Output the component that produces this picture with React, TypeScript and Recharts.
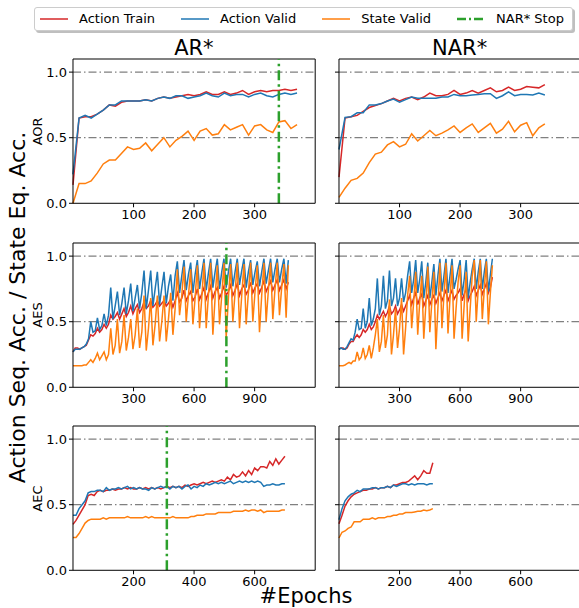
import { LineChart, Line, XAxis, YAxis, ReferenceLine } from "recharts";

// matplotlib-like palette
const C_TRAIN = "#d62728";
const C_VALID = "#1f77b4";
const C_STATE = "#ff7f0e";
const C_STOP = "#2ca02c";
const FONT = "'DejaVu Sans', sans-serif";

const Y_TICKS = [0, 0.5, 1.0];

// ---- AOR (logged every 10 epochs) ----
const AOR_STEP = 10;
const AR_AOR_TRAIN = [0.14, 0.65, 0.66, 0.66, 0.68, 0.71, 0.75, 0.74, 0.77, 0.78, 0.78, 0.78, 0.79, 0.78, 0.80, 0.81, 0.80, 0.81, 0.82, 0.83, 0.82, 0.83, 0.85, 0.83, 0.83, 0.85, 0.83, 0.84, 0.86, 0.83, 0.85, 0.86, 0.85, 0.86, 0.86, 0.87, 0.86, 0.87];
const AR_AOR_VALID = [0.22, 0.65, 0.67, 0.65, 0.68, 0.71, 0.75, 0.75, 0.78, 0.78, 0.78, 0.78, 0.79, 0.78, 0.80, 0.81, 0.80, 0.82, 0.82, 0.80, 0.81, 0.82, 0.84, 0.82, 0.81, 0.84, 0.82, 0.83, 0.83, 0.81, 0.83, 0.84, 0.82, 0.81, 0.83, 0.84, 0.83, 0.84];
const AR_AOR_STATE = [0.0, 0.15, 0.15, 0.17, 0.23, 0.30, 0.33, 0.33, 0.38, 0.43, 0.41, 0.42, 0.46, 0.40, 0.45, 0.50, 0.43, 0.48, 0.51, 0.55, 0.48, 0.55, 0.57, 0.52, 0.53, 0.60, 0.56, 0.58, 0.60, 0.52, 0.59, 0.60, 0.56, 0.54, 0.62, 0.63, 0.57, 0.60];
const NAR_AOR_TRAIN = [0.20, 0.65, 0.66, 0.67, 0.70, 0.73, 0.745, 0.76, 0.78, 0.80, 0.78, 0.80, 0.81, 0.79, 0.81, 0.84, 0.82, 0.82, 0.83, 0.86, 0.83, 0.84, 0.86, 0.84, 0.86, 0.88, 0.85, 0.86, 0.885, 0.86, 0.87, 0.89, 0.885, 0.88, 0.905];
const NAR_AOR_VALID = [0.41, 0.655, 0.66, 0.69, 0.69, 0.75, 0.75, 0.76, 0.78, 0.795, 0.77, 0.79, 0.81, 0.80, 0.80, 0.80, 0.80, 0.81, 0.81, 0.83, 0.82, 0.82, 0.825, 0.83, 0.835, 0.835, 0.80, 0.82, 0.85, 0.82, 0.83, 0.83, 0.825, 0.84, 0.825];
const NAR_AOR_STATE = [0.045, 0.115, 0.175, 0.19, 0.23, 0.31, 0.375, 0.39, 0.445, 0.47, 0.43, 0.45, 0.53, 0.475, 0.515, 0.555, 0.515, 0.535, 0.56, 0.59, 0.54, 0.575, 0.605, 0.54, 0.575, 0.61, 0.535, 0.565, 0.625, 0.545, 0.595, 0.615, 0.515, 0.575, 0.605];

// ---- AES (AR* logged every 11 epochs, NAR* every 10) ----
const AR_AES_STEP = 11;
const AR_AES_TRAIN = [
  0.27, 0.30, 0.30, 0.29, 0.30, 0.31, 0.32, 0.36,
  0.40, 0.39, 0.41, 0.45, 0.42, 0.44, 0.48, 0.45, 0.48, 0.55, 0.52, 0.54,
  0.57, 0.52, 0.56, 0.60, 0.54, 0.57, 0.62, 0.56, 0.60, 0.63, 0.57, 0.60,
  0.65, 0.60, 0.62, 0.66, 0.61, 0.63, 0.66, 0.62, 0.64, 0.66, 0.62, 0.64,
  0.67, 0.61, 0.66, 0.72, 0.65, 0.68, 0.74, 0.66, 0.70, 0.73, 0.66, 0.69,
  0.75, 0.67, 0.71, 0.76, 0.67, 0.72, 0.77, 0.68, 0.73, 0.76, 0.68, 0.72,
  0.77, 0.70, 0.73, 0.78, 0.70, 0.74, 0.79, 0.70, 0.75, 0.78, 0.71, 0.74,
  0.80, 0.72, 0.76, 0.79, 0.72, 0.76, 0.81, 0.73, 0.77, 0.81, 0.74, 0.78,
  0.82, 0.74, 0.78, 0.82, 0.75, 0.80,
];
const AR_AES_VALID = [
  0.27, 0.29, 0.29, 0.29, 0.30, 0.31, 0.33, 0.37,
  0.50, 0.42, 0.43, 0.53, 0.44, 0.47, 0.56, 0.47, 0.55, 0.76, 0.52, 0.62,
  0.73, 0.55, 0.64, 0.76, 0.56, 0.66, 0.79, 0.58, 0.68, 0.78, 0.60, 0.72,
  0.89, 0.60, 0.74, 0.89, 0.62, 0.75, 0.88, 0.63, 0.76, 0.88, 0.64, 0.77,
  0.86, 0.66, 0.85, 0.96, 0.72, 0.85, 0.97, 0.74, 0.86, 0.95, 0.72, 0.86,
  0.97, 0.75, 0.87, 0.98, 0.74, 0.87, 0.98, 0.76, 0.88, 0.98, 0.75, 0.88,
  0.98, 0.76, 0.88, 0.98, 0.77, 0.88, 0.98, 0.78, 0.89, 0.98, 0.76, 0.88,
  0.97, 0.78, 0.88, 0.96, 0.77, 0.88, 0.98, 0.79, 0.89, 0.98, 0.80, 0.90,
  0.98, 0.80, 0.90, 0.98, 0.79, 0.97,
];
const AR_AES_STATE = [
  0.165, 0.165, 0.165, 0.165, 0.165, 0.17, 0.17, 0.19,
  0.21, 0.19, 0.22, 0.26, 0.21, 0.24, 0.27, 0.21, 0.25, 0.45, 0.25, 0.32,
  0.52, 0.26, 0.35, 0.55, 0.28, 0.38, 0.52, 0.29, 0.40, 0.60, 0.30, 0.42,
  0.70, 0.28, 0.45, 0.68, 0.32, 0.48, 0.70, 0.35, 0.50, 0.70, 0.35, 0.52,
  0.72, 0.40, 0.60, 0.90, 0.55, 0.70, 0.92, 0.50, 0.70, 0.90, 0.48, 0.68,
  0.93, 0.45, 0.68, 0.95, 0.45, 0.70, 0.95, 0.40, 0.68, 0.93, 0.48, 0.70,
  0.95, 0.38, 0.68, 0.94, 0.50, 0.72, 0.95, 0.45, 0.70, 0.94, 0.48, 0.72,
  0.95, 0.50, 0.73, 0.93, 0.42, 0.70, 0.95, 0.50, 0.74, 0.95, 0.52, 0.75,
  0.95, 0.55, 0.76, 0.94, 0.53, 0.93,
];
const NAR_AES_STEP = 10;
const NAR_AES_TRAIN = [
  0.29, 0.30, 0.30, 0.29, 0.30, 0.33, 0.35, 0.35, 0.38, 0.40,
  0.38, 0.40, 0.44, 0.42, 0.44, 0.48, 0.44, 0.46, 0.50, 0.55,
  0.52, 0.55, 0.58, 0.54, 0.57, 0.62, 0.56, 0.58, 0.62, 0.56,
  0.59, 0.63, 0.58, 0.62, 0.66, 0.70, 0.63, 0.68, 0.72, 0.63,
  0.68, 0.71, 0.62, 0.66, 0.70, 0.63, 0.67, 0.70, 0.64, 0.68,
  0.72, 0.66, 0.70, 0.74, 0.66, 0.70, 0.74, 0.67, 0.70, 0.72,
  0.75, 0.66, 0.71, 0.75, 0.66, 0.70, 0.73, 0.77, 0.70, 0.74,
  0.78, 0.71, 0.75, 0.79, 0.72, 0.76, 0.84,
];
const NAR_AES_VALID = [
  0.29, 0.30, 0.29, 0.29, 0.31, 0.34, 0.37, 0.36, 0.42, 0.52,
  0.44, 0.45, 0.60, 0.45, 0.50, 0.68, 0.47, 0.52, 0.60, 0.83,
  0.55, 0.62, 0.85, 0.60, 0.66, 0.89, 0.62, 0.68, 0.83, 0.62,
  0.68, 0.83, 0.65, 0.72, 0.85, 0.96, 0.72, 0.82, 0.97, 0.72,
  0.82, 0.96, 0.68, 0.80, 0.95, 0.68, 0.80, 0.94, 0.70, 0.85,
  0.98, 0.73, 0.85, 0.98, 0.72, 0.85, 0.98, 0.75, 0.82, 0.90,
  0.97, 0.70, 0.82, 0.97, 0.68, 0.80, 0.90, 0.98, 0.75, 0.88,
  0.98, 0.75, 0.88, 0.98, 0.73, 0.86, 0.98,
];
const NAR_AES_STATE = [
  0.165, 0.165, 0.165, 0.17, 0.18, 0.19, 0.18, 0.20, 0.20, 0.27,
  0.21, 0.23, 0.30, 0.22, 0.25, 0.32, 0.22, 0.30, 0.40, 0.52,
  0.27, 0.35, 0.55, 0.30, 0.40, 0.67, 0.25, 0.40, 0.60, 0.30,
  0.45, 0.68, 0.25, 0.45, 0.70, 0.85, 0.45, 0.65, 0.88, 0.40,
  0.65, 0.85, 0.37, 0.62, 0.92, 0.42, 0.65, 0.88, 0.29, 0.60,
  0.95, 0.45, 0.70, 0.95, 0.41, 0.68, 0.93, 0.37, 0.60, 0.80,
  0.93, 0.37, 0.62, 0.88, 0.35, 0.60, 0.85, 0.97, 0.50, 0.75,
  0.97, 0.52, 0.75, 0.96, 0.48, 0.72, 0.93,
];

// ---- AEC (logged every 10 epochs) ----
const AEC_STEP = 10;
const AR_AEC_TRAIN = [
  0.35, 0.38, 0.42, 0.46, 0.50, 0.57, 0.58, 0.57, 0.60, 0.61,
  0.60, 0.61, 0.61, 0.62, 0.61, 0.62, 0.62, 0.63, 0.62, 0.63,
  0.62, 0.62, 0.63, 0.62, 0.63, 0.62, 0.63, 0.62, 0.63, 0.62,
  0.63, 0.64, 0.63, 0.64, 0.63, 0.64, 0.63, 0.65, 0.64, 0.65,
  0.66, 0.65, 0.66, 0.67, 0.66, 0.67, 0.68, 0.67, 0.68, 0.69,
  0.68, 0.71, 0.69, 0.73, 0.71, 0.72, 0.75, 0.72, 0.76, 0.73,
  0.78, 0.76, 0.79, 0.79, 0.78, 0.83, 0.80, 0.85, 0.81, 0.84,
  0.87,
];
const AR_AEC_VALID = [
  0.42, 0.42, 0.47, 0.50, 0.53, 0.59, 0.60, 0.60, 0.61, 0.61,
  0.60, 0.63, 0.61, 0.62, 0.62, 0.63, 0.62, 0.63, 0.64, 0.62,
  0.63, 0.62, 0.63, 0.62, 0.62, 0.61, 0.63, 0.62, 0.63, 0.64,
  0.63, 0.64, 0.62, 0.64, 0.63, 0.64, 0.62, 0.64, 0.65, 0.62,
  0.64, 0.63, 0.65, 0.64, 0.66, 0.65, 0.66, 0.67, 0.66, 0.67,
  0.66, 0.67, 0.68, 0.66, 0.67, 0.68, 0.67, 0.68, 0.67, 0.68,
  0.67, 0.68, 0.67, 0.64, 0.65, 0.65, 0.66, 0.65, 0.65, 0.66,
  0.66,
];
const AR_AEC_STATE = [
  0.25, 0.25, 0.28, 0.32, 0.36, 0.38, 0.39, 0.39, 0.39, 0.39,
  0.40, 0.39, 0.40, 0.40, 0.40, 0.40, 0.40, 0.40, 0.41, 0.40,
  0.40, 0.40, 0.40, 0.40, 0.41, 0.40, 0.41, 0.40, 0.40, 0.40,
  0.40, 0.40, 0.40, 0.41, 0.40, 0.40, 0.40, 0.40, 0.40, 0.41,
  0.41, 0.42, 0.42, 0.42, 0.43, 0.43, 0.43, 0.43, 0.44, 0.44,
  0.44, 0.44, 0.44, 0.45, 0.45, 0.45, 0.45, 0.46, 0.45, 0.46,
  0.46, 0.45, 0.46, 0.44, 0.45, 0.45, 0.45, 0.45, 0.45, 0.46,
  0.46,
];
const NAR_AEC_TRAIN = [
  0.355, 0.42, 0.49, 0.53, 0.56, 0.58, 0.59, 0.60, 0.61, 0.61,
  0.62, 0.62, 0.63, 0.62, 0.63, 0.63, 0.64, 0.63, 0.65, 0.65,
  0.66, 0.67, 0.67, 0.68, 0.70, 0.72, 0.69, 0.72, 0.76, 0.74,
  0.74, 0.82,
];
const NAR_AEC_VALID = [
  0.385, 0.47, 0.53, 0.56, 0.58, 0.59, 0.61, 0.60, 0.62, 0.62,
  0.62, 0.63, 0.63, 0.62, 0.63, 0.63, 0.64, 0.63, 0.65, 0.64,
  0.65, 0.66, 0.66, 0.65, 0.66, 0.65, 0.66, 0.66, 0.66, 0.65,
  0.66, 0.66,
];
const NAR_AEC_STATE = [
  0.246, 0.29, 0.30, 0.32, 0.33, 0.37, 0.37, 0.37, 0.39, 0.39,
  0.39, 0.40, 0.39, 0.40, 0.40, 0.40, 0.41, 0.41, 0.42, 0.42,
  0.43, 0.43, 0.44, 0.44, 0.44, 0.445, 0.45, 0.45, 0.46, 0.455,
  0.46, 0.47,
];

// epoch where the NAR* run stopped, per row
const NAR_STOP = { aor: 340, aes: 760, aec: 310 };

// layout (px, measured on the reference)
const PLOT_W = 242.2;
const PLOT_H = 144.3;
const Y_AXIS_W = 45;
const PAD_T = 5;
const PAD_R = 5;
const X_AXIS_H = 25;
const COL_X = [72.8, 338.5];
const ROW_Y = [59.2, 242.9, 426.4];

const LEGEND_ITEMS = [
  { label: "Action Train", color: C_TRAIN, dash: undefined as string | undefined, width: 1.5 },
  { label: "Action Valid", color: C_VALID, dash: undefined, width: 1.5 },
  { label: "State Valid", color: C_STATE, dash: undefined, width: 1.5 },
  { label: "NAR* Stop", color: C_STOP, dash: "9 3 2 3", width: 2.5 },
];

function buildRows(step: number, train: number[], valid: number[], state: number[]) {
  return train.map((t, i) => ({ epoch: i * step, train: t, valid: valid[i], state: state[i] }));
}

interface PanelProps {
  x: number;
  y: number;
  rows: { epoch: number; train: number; valid: number; state: number }[];
  xMax: number;
  xTicks: number[];
  stop?: number;
  showYLabels: boolean;
}

function Panel({ x, y, rows, xMax, xTicks, stop, showYLabels }: PanelProps) {
  const tickStyle = { fill: "#000", fontSize: 13, fontFamily: FONT };
  const grid = { stroke: "#808080", strokeWidth: 1.3, strokeDasharray: "8 3 1.5 3" };
  return (
    <div style={{ position: "absolute", left: x - Y_AXIS_W, top: y - PAD_T }}>
      <LineChart
        width={Y_AXIS_W + PLOT_W + PAD_R}
        height={PAD_T + PLOT_H + X_AXIS_H}
        data={rows}
        margin={{ top: PAD_T, right: PAD_R, bottom: 0, left: 0 }}
      >
        <XAxis
          dataKey="epoch"
          type="number"
          domain={[0, xMax]}
          ticks={xTicks}
          interval={0}
          height={X_AXIS_H}
          tickSize={4}
          tickMargin={2}
          stroke="#000"
          tick={tickStyle}
        />
        <YAxis
          type="number"
          domain={[0, 1.1]}
          ticks={Y_TICKS}
          interval={0}
          width={Y_AXIS_W}
          tickSize={4}
          tickMargin={2}
          stroke="#000"
          tick={tickStyle}
          tickFormatter={(v: number) => (showYLabels ? v.toFixed(1) : "")}
        />
        <ReferenceLine y={0.5} {...grid} />
        <ReferenceLine y={1.0} {...grid} />
        {/* top / right spines */}
        <ReferenceLine y={1.1} stroke="#000" strokeWidth={1} />
        <ReferenceLine x={xMax} stroke="#000" strokeWidth={1} />
        <Line type="linear" dataKey="train" stroke={C_TRAIN} strokeWidth={1.5} dot={false} isAnimationActive={false} />
        <Line type="linear" dataKey="valid" stroke={C_VALID} strokeWidth={1.5} dot={false} isAnimationActive={false} />
        <Line type="linear" dataKey="state" stroke={C_STATE} strokeWidth={1.5} dot={false} isAnimationActive={false} />
        {stop !== undefined && (
          <ReferenceLine x={stop} stroke={C_STOP} strokeWidth={2.5} strokeDasharray="10 4 2.5 4" />
        )}
      </LineChart>
    </div>
  );
}

function ChartLegend() {
  return (
    <div
      style={{
        position: "absolute",
        left: 34.3,
        top: 6.7,
        width: 539,
        height: 24,
        boxSizing: "border-box",
        border: "1px solid #cccccc",
        borderRadius: 3,
        background: "#fff",
        boxShadow: "2px 2px 0 rgba(0,0,0,0.25)",
        display: "flex",
        alignItems: "center",
        paddingLeft: 4.7,
        gap: 26,
        fontFamily: FONT,
        fontSize: 13,
        color: "#000",
      }}
    >
      {LEGEND_ITEMS.map((it) => (
        <div key={it.label} style={{ display: "flex", alignItems: "center" }}>
          <svg width={28} height={10} style={{ marginRight: 11 }}>
            <line x1={0} y1={5} x2={28} y2={5} stroke={it.color} strokeWidth={it.width} strokeDasharray={it.dash} />
          </svg>
          <span style={{ whiteSpace: "nowrap" }}>{it.label}</span>
        </div>
      ))}
    </div>
  );
}

export default function App() {
  const aor = { xMax: 400, xTicks: [100, 200, 300] };
  const aes = { xMax: 1200, xTicks: [300, 600, 900] };
  const aec = { xMax: 800, xTicks: [200, 400, 600] };
  const rowMid = ROW_Y.map((t) => t + PLOT_H / 2);

  return (
    <div
      style={{
        position: "absolute",
        left: 0,
        top: 0,
        width: 579,
        height: 608,
        overflow: "hidden",
        background: "#fff",
        fontFamily: FONT,
      }}
    >
      <ChartLegend />

      <Panel x={COL_X[0]} y={ROW_Y[0]} rows={buildRows(AOR_STEP, AR_AOR_TRAIN, AR_AOR_VALID, AR_AOR_STATE)} {...aor} stop={NAR_STOP.aor} showYLabels />
      <Panel x={COL_X[1]} y={ROW_Y[0]} rows={buildRows(AOR_STEP, NAR_AOR_TRAIN, NAR_AOR_VALID, NAR_AOR_STATE)} {...aor} showYLabels={false} />
      <Panel x={COL_X[0]} y={ROW_Y[1]} rows={buildRows(AR_AES_STEP, AR_AES_TRAIN, AR_AES_VALID, AR_AES_STATE)} {...aes} stop={NAR_STOP.aes} showYLabels />
      <Panel x={COL_X[1]} y={ROW_Y[1]} rows={buildRows(NAR_AES_STEP, NAR_AES_TRAIN, NAR_AES_VALID, NAR_AES_STATE)} {...aes} showYLabels={false} />
      <Panel x={COL_X[0]} y={ROW_Y[2]} rows={buildRows(AEC_STEP, AR_AEC_TRAIN, AR_AEC_VALID, AR_AEC_STATE)} {...aec} stop={NAR_STOP.aec} showYLabels />
      <Panel x={COL_X[1]} y={ROW_Y[2]} rows={buildRows(AEC_STEP, NAR_AEC_TRAIN, NAR_AEC_VALID, NAR_AEC_STATE)} {...aec} showYLabels={false} />

      {/* titles and axis labels */}
      <svg width={579} height={608} style={{ position: "absolute", left: 0, top: 0, pointerEvents: "none" }} fontFamily={FONT} fill="#000">
        <text x={COL_X[0] + PLOT_W / 2} y={55} textAnchor="middle" fontSize={21}>AR*</text>
        <text x={COL_X[1] + PLOT_W / 2} y={55} textAnchor="middle" fontSize={21}>NAR*</text>
        {["AOR", "AES", "AEC"].map((lab, i) => (
          <text key={lab} transform={`translate(41.5, ${rowMid[i]}) rotate(-90)`} textAnchor="middle" fontSize={13}>
            {lab}
          </text>
        ))}
        <text transform="translate(25, 307.5) rotate(-90)" textAnchor="middle" fontSize={22}>
          Action Seq. Acc. / State Eq. Acc.
        </text>
        <text x={306} y={603} textAnchor="middle" fontSize={21}>#Epochs</text>
      </svg>
    </div>
  );
}
